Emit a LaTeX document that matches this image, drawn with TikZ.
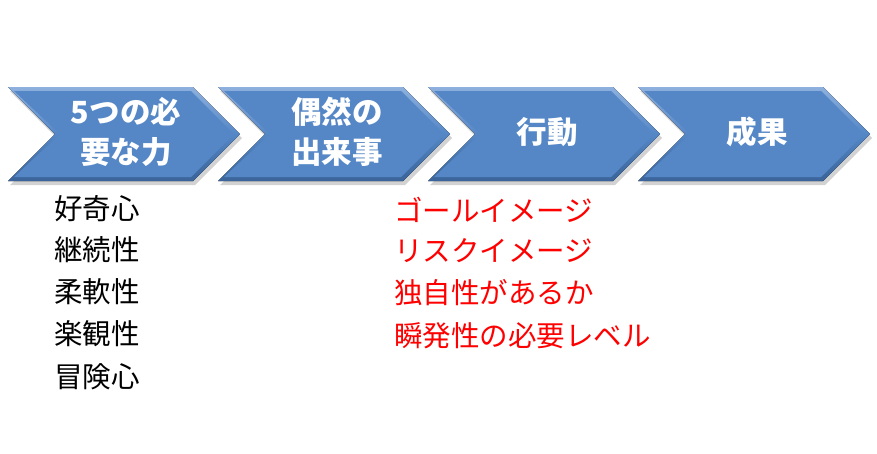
\documentclass[tikz,border=0pt]{standalone}
\usepackage{fontspec}
\newfontfamily\jp{Noto Sans CJK JP}
\definecolor{body}{HTML}{5587C6}
\definecolor{bevlight}{HTML}{8DB0DE}
\definecolor{bevdark}{HTML}{3A6499}
\definecolor{txtred}{HTML}{FF0000}
\tikzset{
  chevtext/.style={text=white,font=\jp\bfseries\fontsize{30.5}{40}\selectfont,align=center,inner sep=0pt},
  blist/.style={anchor=west,font=\jp\fontsize{28.5}{30}\selectfont,inner sep=0pt,text=black},
  rlist/.style={anchor=west,font=\jp\fontsize{28.5}{30}\selectfont,inner sep=0pt,text=txtred}
}
\newcommand{\chevron}[1]{%
  \fill[black!35,opacity=0.5] (#1+2,91) -- (#1+187,91) -- (#1+234,138) -- (#1+187,185) -- (#1+2,185) -- (#1+49,138) -- cycle;
  \fill[top color=bevlight,bottom color=bevdark,middle color=body] (#1,87) -- (#1+185,87) -- (#1+232,134) -- (#1+185,181) -- (#1,181) -- (#1+47,134) -- cycle;
  \fill[body] (#1+6,91) -- (#1+183,91) -- (#1+226,134) -- (#1+183,177) -- (#1+6,177) -- (#1+52,134) -- cycle;
}
\begin{document}
\begin{tikzpicture}[x=1pt,y=-1pt]
\useasboundingbox[fill=white] (0,0) rectangle (877,453);
\chevron{8}
\chevron{218}
\chevron{428}
\chevron{638}
\node[chevtext] (c1) at (126,132) {5つの必\\要な力};
\node[chevtext] (c2) at (337,132) {偶然の\\出来事};
\node[chevtext] (c3) at (547,132) {行動};
\node[chevtext] (c4) at (757,132) {成果};
\node[blist] (b1) at (54,209) {好奇心};
\node[blist] (b2) at (54,250) {継続性};
\node[blist] (b3) at (54,292) {柔軟性};
\node[blist] (b4) at (54,334) {楽観性};
\node[blist] (b5) at (54,377) {冒険心};
\node[rlist] (r1) at (394,210) {ゴールイメージ};
\node[rlist] (r2) at (394,251) {リスクイメージ};
\node[rlist] (r3) at (394,293) {独自性があるか};
\node[rlist] (r4) at (394,336) {瞬発性の必要レベル};
\end{tikzpicture}
\end{document}
